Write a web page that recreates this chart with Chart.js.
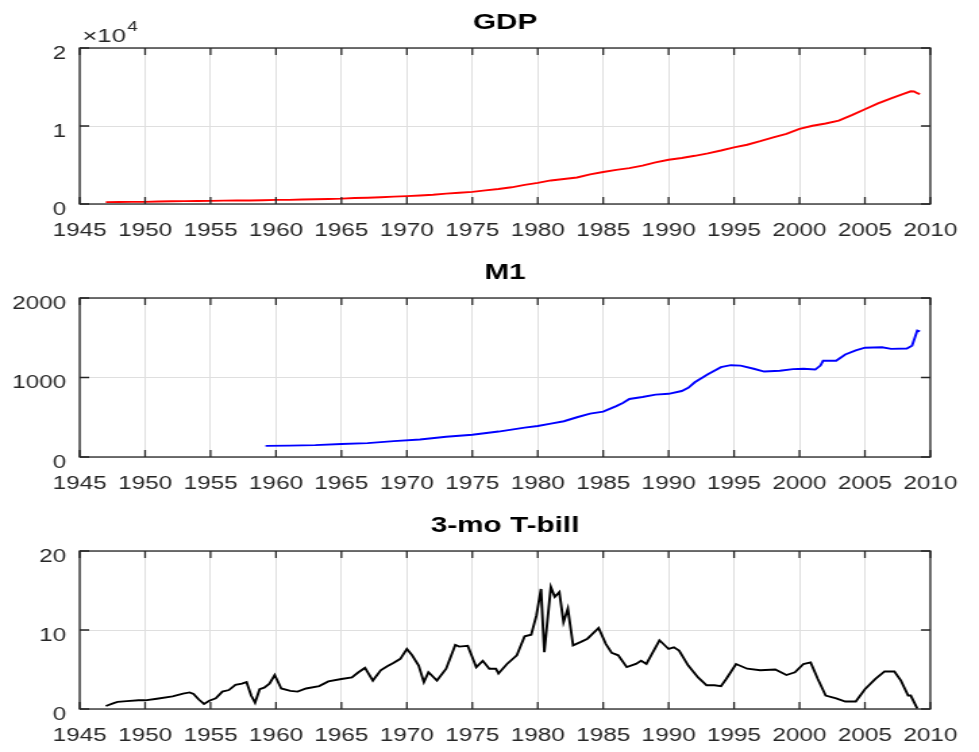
<!DOCTYPE html>
<html lang="en">
<head>
  <meta charset="UTF-8">
  <title>GDP, M1, 3-mo T-bill</title>
  <script src="https://cdn.jsdelivr.net/npm/chart.js"></script>
  <style>
    body {
      margin: 0;
      padding: 0;
      background: #ffffff;
    }

    #wrap {
      position: relative;
      width: 979px;
      height: 752px;
      overflow: hidden;
    }

    /* the canvases are drawn narrower and stretched sideways, like the reference */
    #wrap canvas {
      position: absolute;
      left: 0;
    }
  </style>
</head>
<body>
  <div id="wrap">
    <canvas id="gdpChart" width="725" height="250" style="top:0px;width:979px;height:250px"></canvas>
    <canvas id="m1Chart" width="725" height="250" style="top:250px;width:979px;height:250px"></canvas>
    <canvas id="tbillChart" width="725" height="252" style="top:500px;width:979px;height:252px"></canvas>
  </div>

  <script>
    // x axis ticks, shared by the three panels
    const yearTicks = [1945, 1950, 1955, 1960, 1965, 1970, 1975, 1980, 1985, 1990, 1995, 2000, 2005, 2010];

    // GDP (billions)
    const gdpYears = [1947, 1948, 1949, 1950, 1951, 1952, 1953, 1954, 1955, 1956, 1957, 1958, 1959,
      1960, 1961, 1962, 1963, 1964, 1965, 1966, 1967, 1968, 1969, 1970, 1971, 1972, 1973, 1974,
      1975, 1976, 1977, 1978, 1979, 1980, 1981, 1982, 1983, 1984, 1985, 1986, 1987, 1988, 1989,
      1990, 1991, 1992, 1993, 1994, 1995, 1996, 1997, 1998, 1999, 2000, 2001, 2002, 2003, 2004,
      2005, 2006, 2007, 2008, 2008.5, 2008.75, 2009, 2009.2];
    const gdpValues = [237, 255, 268, 275, 320, 348, 372, 378, 395, 428, 452, 455, 485,
      524, 528, 570, 600, 645, 690, 765, 810, 870, 950, 1010, 1085, 1185, 1330, 1440,
      1550, 1740, 1920, 2140, 2450, 2700, 3020, 3200, 3400, 3800, 4100, 4370, 4600, 4930, 5330,
      5670, 5900, 6180, 6500, 6860, 7250, 7600, 8050, 8550, 9000, 9630, 10030, 10320, 10700, 11400,
      12150, 12900, 13550, 14150, 14450, 14420, 14200, 14100];
    const gdpTicks = [0, 10000, 20000];

    // M1 (billions)
    const m1Years = [1959.2, 1961, 1963, 1965, 1967, 1969, 1971, 1973, 1975, 1977, 1979, 1980, 1981,
      1982, 1983, 1984, 1985, 1986, 1986.5, 1987, 1988, 1989, 1990, 1991, 1991.5, 1992, 1993, 1994,
      1994.75, 1995.5, 1996.5, 1997.3, 1998.5, 1999.5, 2000.3, 2001.2, 2001.6, 2001.8, 2002.8,
      2003.5, 2004.3, 2005, 2006.3, 2007, 2008.2, 2008.6, 2008.85, 2009, 2009.2];
    const m1Values = [140, 143, 150, 163, 175, 200, 220, 255, 280, 320, 370, 390, 420,
      450, 500, 545, 570, 640, 680, 730, 755, 785, 795, 830, 870, 940, 1040, 1130,
      1155, 1150, 1110, 1075, 1085, 1105, 1110, 1100, 1150, 1210, 1210,
      1290, 1340, 1375, 1380, 1360, 1365, 1400, 1520, 1590, 1580];
    const m1Ticks = [0, 1000, 2000];

    // 3-month T-bill rate (%)
    const tbillYears = [1947, 1947.6, 1947.9, 1948.6, 1949.5, 1950, 1950.9, 1952.1, 1952.9, 1953.4,
      1953.7, 1954.1, 1954.5, 1954.9, 1955.4, 1955.9, 1956.4, 1956.9, 1957.4, 1957.75, 1958.1, 1958.4,
      1958.75, 1959.1, 1959.5, 1959.9, 1960.4, 1961.1, 1961.65, 1962.3, 1963.3, 1964, 1965, 1965.8,
      1966.3, 1966.8, 1967.4, 1968, 1968.5, 1969, 1969.5, 1970, 1970.4, 1970.9, 1971.3, 1971.65,
      1972.3, 1973, 1973.7, 1974, 1974.65, 1975.3, 1975.8, 1976.3, 1976.8, 1977, 1977.65, 1978.4,
      1979, 1979.5, 1979.9, 1980.25, 1980.5, 1981, 1981.3, 1981.65, 1981.97, 1982.3, 1982.7, 1983.3,
      1983.8, 1984.65, 1985.2, 1985.65, 1986.15, 1986.8, 1987.5, 1987.9, 1988.3, 1989.3, 1990,
      1990.4, 1990.8, 1991.5, 1992.25, 1992.9, 1993.5, 1994, 1994.4, 1995.15, 1996, 1997, 1998.15,
      1999, 1999.65, 2000.3, 2000.85, 2001.4, 2002, 2002.8, 2003.5, 2004.3, 2005, 2005.8, 2006.5,
      2007.25, 2007.75, 2008.3, 2008.5, 2009];
    const tbillValues = [0.38, 0.75, 0.9, 1.0, 1.1, 1.1, 1.3, 1.6, 1.95, 2.1,
      1.9, 1.2, 0.65, 1.05, 1.35, 2.2, 2.4, 3.05, 3.2, 3.4, 1.7, 0.8,
      2.5, 2.7, 3.2, 4.3, 2.6, 2.3, 2.2, 2.6, 2.9, 3.5, 3.8, 4.0,
      4.65, 5.2, 3.6, 4.9, 5.4, 5.85, 6.35, 7.6, 6.8, 5.5, 3.4, 4.65,
      3.6, 5.1, 8.1, 7.9, 8.0, 5.3, 6.1, 5.1, 5.1, 4.5, 5.7, 6.8,
      9.2, 9.4, 11.85, 15.2, 7.2, 15.45, 14.2, 14.8, 11.0, 12.7, 8.05, 8.5,
      8.9, 10.25, 8.25, 7.1, 6.8, 5.3, 5.7, 6.1, 5.7, 8.7, 7.6,
      7.8, 7.4, 5.5, 4.0, 3.0, 3.0, 2.9, 3.8, 5.7, 5.1, 4.9, 5.0,
      4.3, 4.65, 5.7, 5.9, 3.8, 1.7, 1.35, 0.95, 0.95, 2.5, 3.8, 4.75,
      4.75, 3.6, 1.7, 1.7, 0.05];
    const tbillTicks = [0, 10, 20];

    const axisColor = '#262626';
    const gridColor = '#dfdfdf';
    const plotLeft = 59;     // chart area left, in canvas units
    const plotRightPad = 24.4;
    const tickLen = 7;

    Chart.defaults.font.family = '"Liberation Sans", Arial, Helvetica, sans-serif';

    // axes box with inward ticks on all four sides
    const frame = {
      id: 'frame',
      afterDraw(chart) {
        const { ctx, chartArea: a, scales: { x, y } } = chart;
        ctx.save();
        ctx.strokeStyle = axisColor;
        ctx.lineWidth = 1.3;
        ctx.strokeRect(a.left, a.top, a.right - a.left, a.bottom - a.top);
        ctx.beginPath();
        x.ticks.forEach(t => {
          const px = x.getPixelForValue(t.value);
          ctx.moveTo(px, a.bottom);
          ctx.lineTo(px, a.bottom - tickLen);
          ctx.moveTo(px, a.top);
          ctx.lineTo(px, a.top + tickLen);
        });
        y.ticks.forEach(t => {
          const py = y.getPixelForValue(t.value);
          ctx.moveTo(a.left, py);
          ctx.lineTo(a.left + tickLen, py);
          ctx.moveTo(a.right, py);
          ctx.lineTo(a.right - tickLen, py);
        });
        ctx.stroke();
        ctx.restore();
      }
    };

    // "x10^4" exponent label above the GDP axis
    const exponent = {
      id: 'exponent',
      afterDraw(chart) {
        const { ctx, chartArea: a } = chart;
        ctx.save();
        ctx.fillStyle = axisColor;
        ctx.textBaseline = 'alphabetic';
        ctx.textAlign = 'left';
        ctx.font = '19px "Liberation Sans", Arial, sans-serif';
        const base = '\u00d710';
        ctx.fillText(base, a.left + 2, a.top - 6);
        const w = ctx.measureText(base).width;
        ctx.font = '14px "Liberation Sans", Arial, sans-serif';
        ctx.fillText('4', a.left + 3 + w, a.top - 17);
        ctx.restore();
      }
    };

    function makePanel(id, p) {
      const canvas = document.getElementById(id);
      const h = canvas.height;
      return new Chart(canvas, {
        type: 'line',
        data: {
          datasets: [{
            data: p.years.map((x, i) => ({ x: x, y: p.values[i] })),
            borderColor: p.color,
            borderWidth: 1.9,
            pointRadius: 0,
            fill: false,
            tension: 0
          }]
        },
        options: {
          responsive: false,
          animation: false,
          devicePixelRatio: 1,
          layout: { padding: { left: 0, right: plotRightPad, top: 0, bottom: 0 } },
          plugins: {
            legend: { display: false },
            tooltip: { enabled: false },
            title: {
              display: true,
              text: p.title,
              fullSize: false,
              color: '#000000',
              font: { size: 22, weight: 'bold', lineHeight: 1 },
              padding: { top: p.top - 36, bottom: 14 }
            }
          },
          scales: {
            x: {
              type: 'linear',
              min: yearTicks[0],
              max: yearTicks[yearTicks.length - 1],
              afterBuildTicks: s => { s.ticks = yearTicks.map(v => ({ value: v })); },
              afterFit: s => { s.height = h - p.bottom; },
              grid: { color: gridColor, lineWidth: 1, drawTicks: false },
              border: { display: false },
              ticks: {
                color: axisColor,
                font: { size: 18 },
                padding: 16,
                maxRotation: 0,
                autoSkip: false,
                callback: v => String(v)
              }
            },
            y: {
              min: p.yTicks[0],
              max: p.yTicks[p.yTicks.length - 1],
              afterBuildTicks: s => { s.ticks = p.yTicks.map(v => ({ value: v })); },
              afterFit: s => { s.width = plotLeft; },
              grid: { color: gridColor, lineWidth: 1, drawTicks: false },
              border: { display: false },
              ticks: {
                color: axisColor,
                font: { size: 18 },
                padding: 10,
                labelOffset: 6,
                callback: p.yFormat
              }
            }
          }
        },
        plugins: p.extra ? [frame, p.extra] : [frame]
      });
    }

    makePanel('gdpChart', {
      title: 'GDP', years: gdpYears, values: gdpValues, color: '#ff0000',
      yTicks: gdpTicks, yFormat: v => String(v / 10000), top: 48, bottom: 204, extra: exponent
    });
    makePanel('m1Chart', {
      title: 'M1', years: m1Years, values: m1Values, color: '#0000ff',
      yTicks: m1Ticks, yFormat: v => String(v), top: 48, bottom: 207
    });
    makePanel('tbillChart', {
      title: '3-mo T-bill', years: tbillYears, values: tbillValues, color: '#000000',
      yTicks: tbillTicks, yFormat: v => String(v), top: 51, bottom: 209
    });
  </script>
</body>
</html>
